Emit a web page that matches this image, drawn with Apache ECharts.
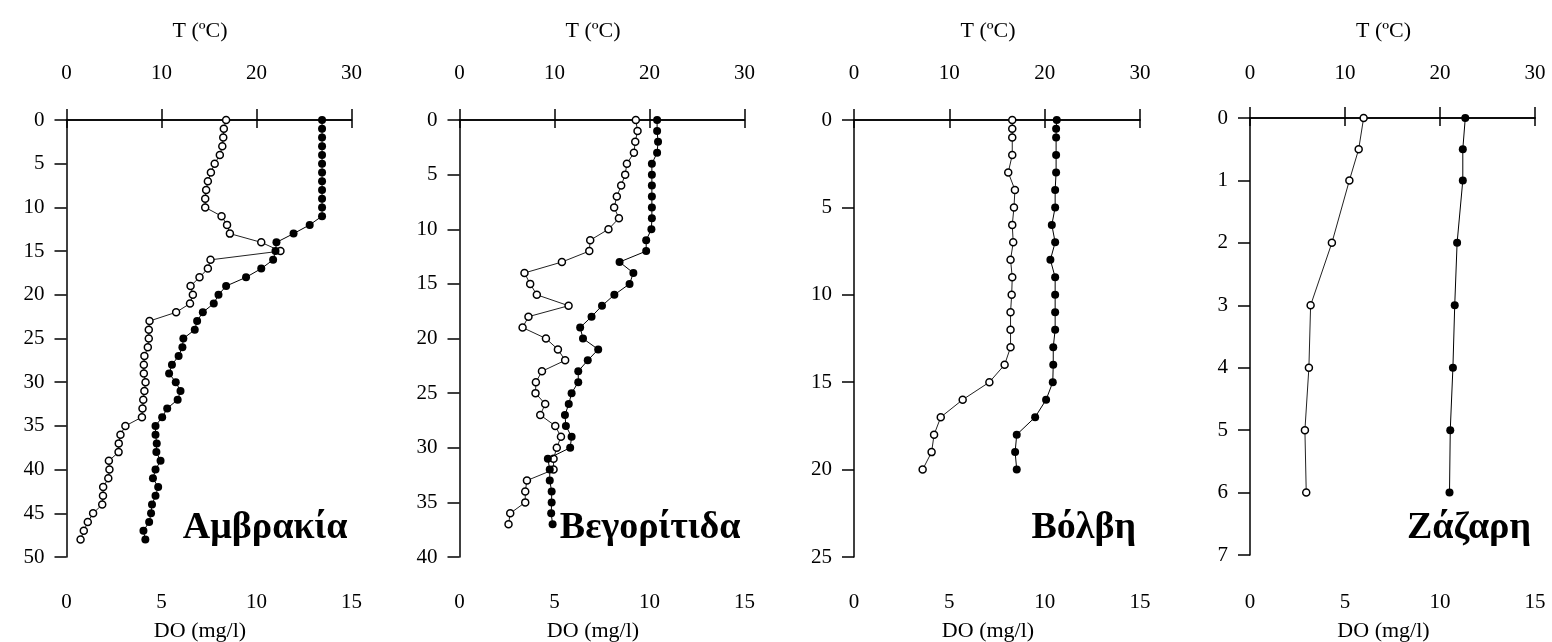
<!DOCTYPE html>
<html>
<head>
<meta charset="utf-8">
<title>Προφίλ θερμοκρασίας και DO</title>
<script src="https://cdn.jsdelivr.net/npm/echarts@6/dist/echarts.min.js"></script>
<style>
  html, body { margin: 0; padding: 0; background: #fff; }
  #chart { width: 1552px; height: 642px; }
</style>
</head>
<body>
<div id="chart"></div>
<script>
// Αμβρακία
const depth1 = [0, 1, 2, 3, 4, 5, 6, 7, 8, 9, 10, 11, 12, 13, 14, 15, 16, 17, 18, 19, 20, 21, 22, 23, 24, 25, 26, 27, 28, 29, 30, 31, 32, 33, 34, 35, 36, 37, 38, 39, 40, 41, 42, 43, 44, 45, 46, 47, 48];
const do1 = [8.4, 8.28, 8.25, 8.2, 8.07, 7.8, 7.6, 7.44, 7.35, 7.3, 7.3, 8.16, 8.45, 8.6, 10.25, 11.26, 7.58, 7.44, 7.0, 6.53, 6.65, 6.5, 5.77, 4.37, 4.33, 4.33, 4.28, 4.1, 4.07, 4.07, 4.16, 4.1, 4.04, 4.0, 3.97, 3.1, 2.84, 2.75, 2.74, 2.23, 2.26, 2.2, 1.93, 1.92, 1.88, 1.4, 1.12, 0.91, 0.74];
const temp1 = [26.9, 26.9, 26.9, 26.9, 26.9, 26.9, 26.9, 26.9, 26.9, 26.9, 26.9, 26.9, 25.6, 23.9, 22.1, 22.0, 21.75, 20.5, 18.9, 16.8, 16.0, 15.5, 14.35, 13.75, 13.5, 12.3, 12.2, 11.8, 11.1, 10.8, 11.5, 12.0, 11.7, 10.6, 10.07, 9.37, 9.37, 9.5, 9.46, 9.9, 9.37, 9.1, 9.65, 9.37, 9.0, 8.9, 8.7, 8.1, 8.3];

// Βεγορίτιδα
const depth2 = [0, 1, 2, 3, 4, 5, 6, 7, 8, 9, 10, 11, 12, 13, 14, 15, 16, 17, 18, 19, 20, 21, 22, 23, 24, 25, 26, 27, 28, 29, 30, 31, 32, 33, 34, 35, 36, 37];
const do2 = [9.28, 9.37, 9.25, 9.18, 8.81, 8.72, 8.51, 8.28, 8.14, 8.39, 7.84, 6.88, 6.83, 5.39, 3.42, 3.72, 4.07, 5.74, 3.63, 3.32, 4.55, 5.18, 5.56, 4.34, 4.02, 4.0, 4.51, 4.25, 5.04, 5.34, 5.12, 4.95, 4.95, 3.55, 3.46, 3.46, 2.67, 2.58];
const temp2 = [20.8, 20.8, 20.9, 20.8, 20.25, 20.25, 20.25, 20.25, 20.25, 20.25, 20.2, 19.65, 19.65, 16.85, 18.3, 17.9, 16.3, 15.0, 13.9, 12.7, 13.0, 14.6, 13.5, 12.5, 12.5, 11.8, 11.5, 11.1, 11.2, 11.8, 11.65, 9.3, 9.5, 9.5, 9.7, 9.7, 9.65, 9.8];

// Βόλβη
const depth3 = [0, 0.5, 1, 2, 3, 4, 5, 6, 7, 8, 9, 10, 11, 12, 13, 14, 15, 16, 17, 18, 19, 20];
const do3 = [8.3, 8.3, 8.3, 8.3, 8.09, 8.44, 8.39, 8.3, 8.35, 8.21, 8.3, 8.27, 8.21, 8.21, 8.21, 7.9, 7.1, 5.7, 4.55, 4.2, 4.07, 3.6];
const temp3 = [21.27, 21.2, 21.2, 21.2, 21.2, 21.1, 21.1, 20.75, 21.1, 20.6, 21.1, 21.1, 21.1, 21.1, 20.9, 20.9, 20.85, 20.15, 19.0, 17.07, 16.9, 17.07];

// Ζάζαρη
const depth4 = [0, 0.5, 1, 2, 3, 4, 5, 6];
const do4 = [5.98, 5.72, 5.23, 4.31, 3.19, 3.1, 2.89, 2.96];
const temp4 = [22.66, 22.4, 22.4, 21.8, 21.55, 21.36, 21.08, 21.0];

const lakeNames = ["Αμβρακία", "Βεγορίτιδα", "Βόλβη", "Ζάζαρη"];
const depthMax = [50, 40, 25, 7];
const depthStep = [5, 5, 5, 1];

const depths = [depth1, depth2, depth3, depth4];
const doValues = [do1, do2, do3, do4];
const tempValues = [temp1, temp2, temp3, temp4];

// plot areas in pixels
const panels = [
  { left: 66.5, top: 120, width: 285, height: 437 },
  { left: 459.5, top: 120, width: 285, height: 437 },
  { left: 854, top: 120, width: 286, height: 437 },
  { left: 1250, top: 118, width: 285, height: 437 },
];

const font = '"Liberation Serif", "Times New Roman", serif';
const axisLine = { show: true, lineStyle: { color: "#000", width: 1.5 } };
const labelStyle = { color: "#000", fontSize: 21, fontFamily: font };
const nameStyle = { color: "#000", fontSize: 22, fontFamily: font, padding: [0, 18, 0, 0] };

const grid = [];
const xAxis = [];
const yAxis = [];
const series = [];
const graphic = [];

panels.forEach((p, i) => {
  // keep the outer labels on the same rows even where a plot is a bit shorter
  const shiftTop = 120 - p.top;
  const shiftBottom = 557 - (p.top + p.height);
  grid.push({
    left: p.left,
    top: p.top,
    width: p.width,
    height: p.height,
    containLabel: false,
    outerBoundsMode: "none",
  });

  xAxis.push({
    type: "value",
    gridIndex: i,
    position: "bottom",
    min: 0,
    max: 15,
    interval: 5,
    name: "DO (mg/l)",
    nameLocation: "middle",
    nameGap: 63 + shiftBottom,
    nameTextStyle: nameStyle,
    axisLine: axisLine,
    axisTick: { show: true, length: 8, lineStyle: { color: "#000", width: 1.5 } },
    axisLabel: Object.assign({ margin: 35 + shiftBottom }, labelStyle),
    splitLine: { show: false },
  });
  xAxis.push({
    type: "value",
    gridIndex: i,
    position: "top",
    min: 0,
    max: 30,
    interval: 10,
    name: "T (ºC)",
    nameLocation: "middle",
    nameGap: 78 - shiftTop,
    nameTextStyle: nameStyle,
    axisLine: axisLine,
    axisTick: { show: true, length: 11, lineStyle: { color: "#000", width: 1.5 } },
    axisLabel: Object.assign({ margin: 36 - shiftTop }, labelStyle),
    splitLine: { show: false },
  });
  yAxis.push({
    type: "value",
    gridIndex: i,
    inverse: true,
    min: 0,
    max: depthMax[i],
    interval: depthStep[i],
    axisLine: axisLine,
    axisTick: { show: true, length: 12, lineStyle: { color: "#000", width: 1.5 } },
    axisLabel: Object.assign({ margin: 22 }, labelStyle),
    splitLine: { show: false },
  });

  series.push({
    name: "DO " + lakeNames[i],
    type: "line",
    xAxisIndex: i * 2,
    yAxisIndex: i,
    data: depths[i].map((d, k) => [doValues[i][k], d]),
    symbol: "circle",
    symbolSize: 7,
    clip: false,
    itemStyle: { color: "#fff", borderColor: "#000", borderWidth: 1.5 },
    lineStyle: { color: "#222", width: 1 },
    z: 3,
  });
  series.push({
    name: "T " + lakeNames[i],
    type: "line",
    xAxisIndex: i * 2 + 1,
    yAxisIndex: i,
    data: depths[i].map((d, k) => [tempValues[i][k], d]),
    symbol: "circle",
    symbolSize: 8,
    clip: false,
    itemStyle: { color: "#000" },
    lineStyle: { color: "#000", width: 1 },
    z: 4,
  });

  graphic.push({
    type: "text",
    right: 1552 - (p.left + p.width) + 4,
    top: 557 - 48,
    style: {
      text: lakeNames[i],
      font: "bold 38px " + font,
      fill: "#000",
    },
  });
});

const chart = echarts.init(document.getElementById("chart"));
chart.setOption({
  animation: false,
  backgroundColor: "#fff",
  grid: grid,
  xAxis: xAxis,
  yAxis: yAxis,
  series: series,
  graphic: graphic,
});
</script>
</body>
</html>
